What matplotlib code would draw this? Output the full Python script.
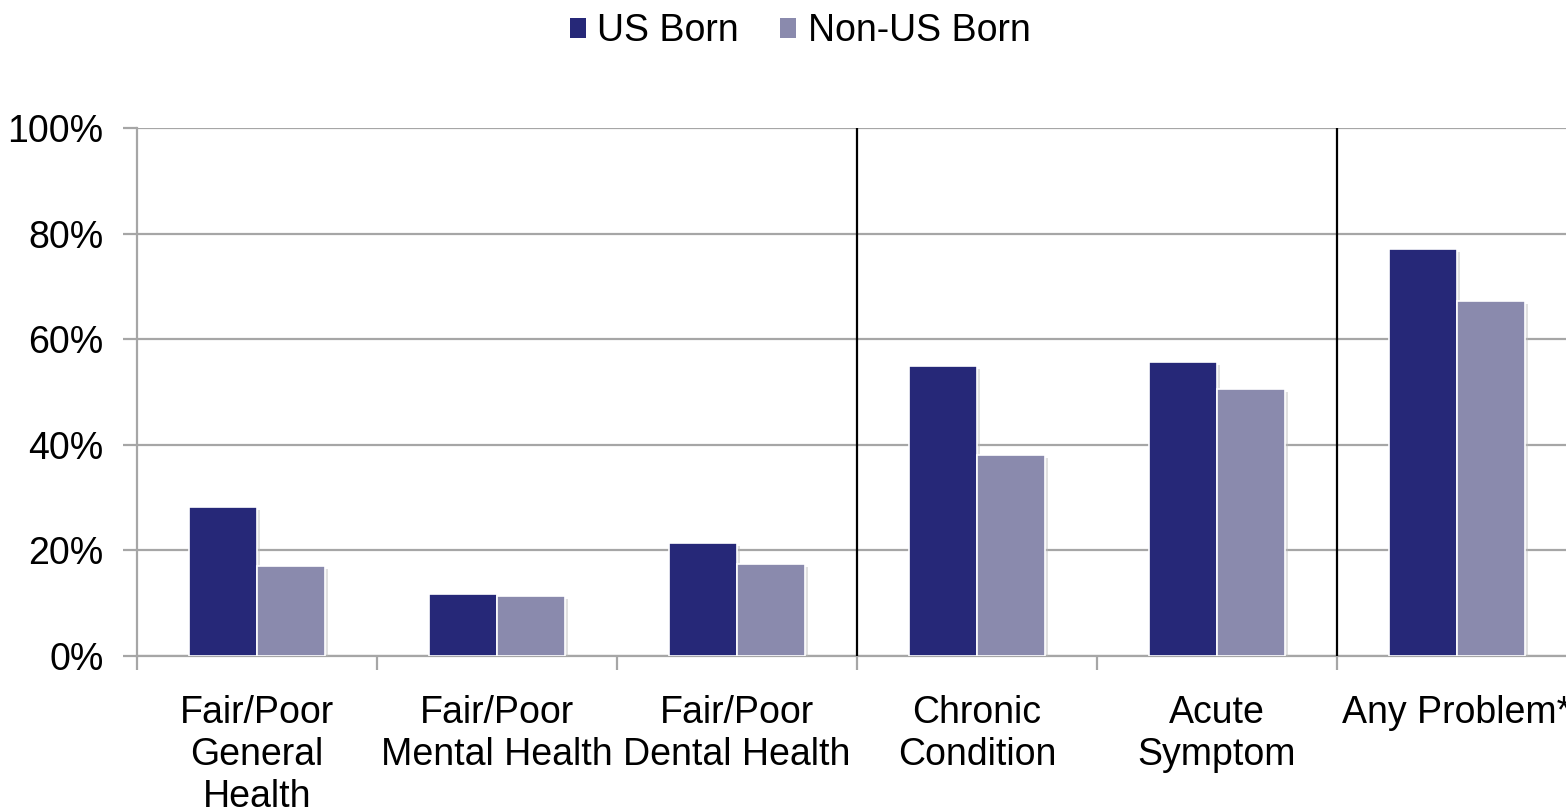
import matplotlib
matplotlib.use("Agg")
import matplotlib.pyplot as plt
import matplotlib.patheffects as pe
from matplotlib.patches import Patch
import numpy as np

categories = ["Fair/Poor\nGeneral\nHealth", "Fair/Poor\nMental Health", "Fair/Poor\nDental Health",
              "Chronic\nCondition", "Acute\nSymptom", "Any Problem*"]
us_born = [28.2, 11.7, 21.4, 54.9, 55.7, 77.1]
non_us_born = [17.0, 11.4, 17.4, 38.1, 50.6, 67.2]
series_names = ["US Born", "Non-US Born"]
yticks = [0, 20, 40, 60, 80, 100]
separators = [2.5, 4.5]
colors = ['#262878', '#8A8AAD']

plt.rcParams['font.family'] = ['Liberation Sans', 'DejaVu Sans']

fig = plt.figure(figsize=(15.66, 8.11), dpi=100)
ax = fig.add_axes([137/1566, 155/811, 1440/1566, 528/811])

x = np.arange(len(categories))
w = 0.283
shadow = [pe.SimplePatchShadow(offset=(2, -2), shadow_rgbFace='#BBBBBB', alpha=0.45), pe.Normal()]
b1 = ax.bar(x - w/2, us_born, w, color=colors[0], edgecolor='white', linewidth=1.2, zorder=3)
b2 = ax.bar(x + w/2, non_us_born, w, color=colors[1], edgecolor='white', linewidth=1.2, zorder=3)
for b in list(b1) + list(b2):
    b.set_path_effects(shadow)

for s in separators:
    ax.axvline(s, color='black', linewidth=1.6, zorder=4)

ax.set_xlim(-0.5, len(categories) - 0.5)
ax.set_ylim(0, 100)
ax.set_yticks(yticks)
ax.set_yticklabels([f"{v}%" for v in yticks], fontsize=27)
ax.yaxis.grid(True, color='#A6A6A6', linewidth=1.6, zorder=0)
ax.set_axisbelow(True)

ax.set_xticks(x)
ax.set_xticklabels(categories, fontsize=27, linespacing=1.22)
ax.tick_params(axis='x', length=0, pad=28)
ax.set_xticks(np.arange(-0.5, len(categories)), minor=True)
ax.tick_params(axis='x', which='minor', length=10, width=1.6, color='#A6A6A6')
ax.tick_params(axis='y', length=10, width=1.6, color='#A6A6A6', pad=14)

for sp in ['top', 'right']:
    ax.spines[sp].set_visible(False)
for sp in ['left', 'bottom']:
    ax.spines[sp].set_color('#A6A6A6')
    ax.spines[sp].set_linewidth(1.6)

handles = [Patch(facecolor=c, edgecolor='none') for c in colors]
fig.legend(handles=handles, labels=series_names, loc='upper center', bbox_to_anchor=(0.511, 1.025),
           ncol=2, frameon=False, fontsize=27, handlelength=0.43, handleheight=0.43,
           handletextpad=0.3, columnspacing=1.1)

fig.savefig("out.png", dpi=100)
